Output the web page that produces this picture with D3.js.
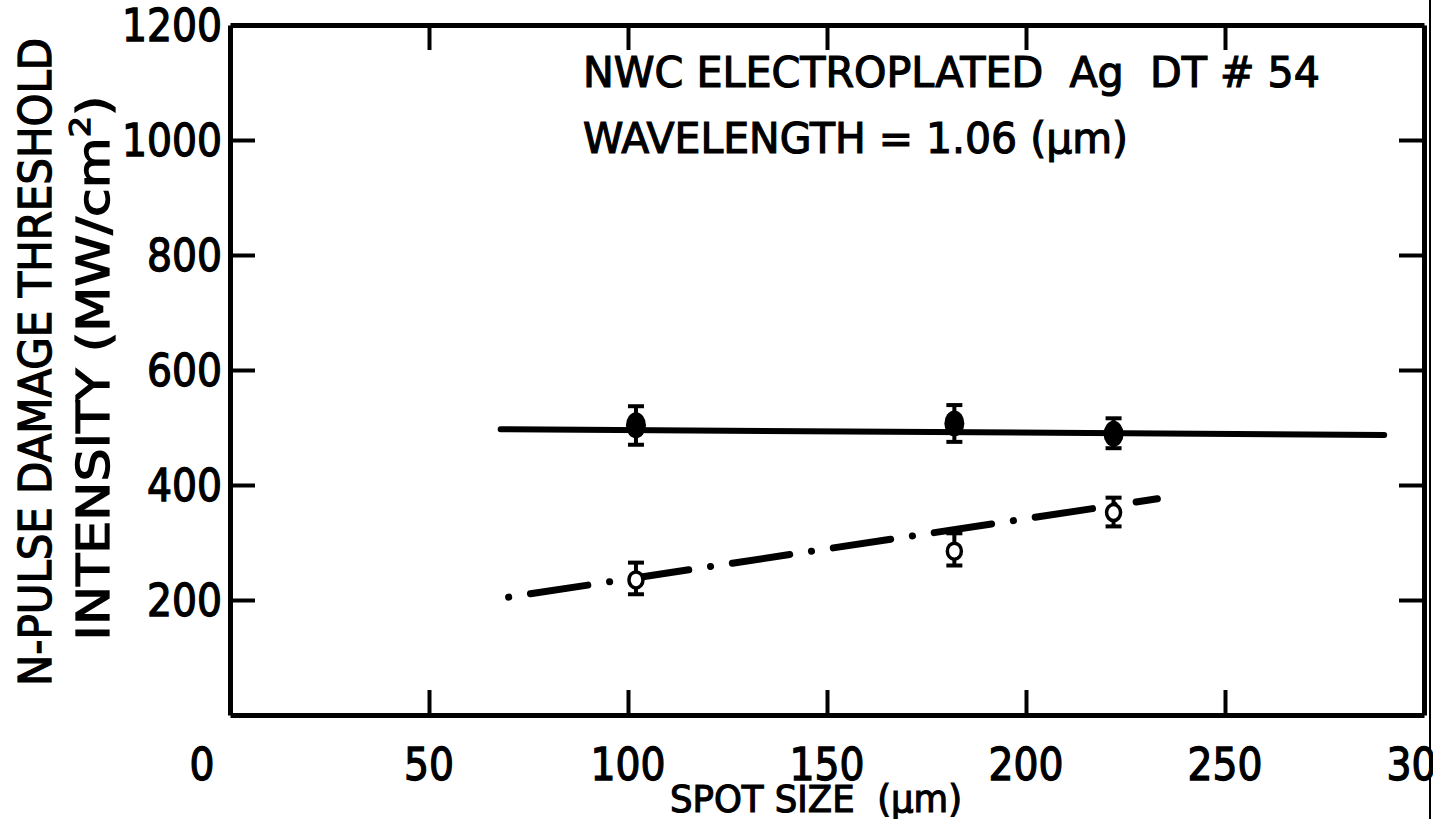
<!DOCTYPE html>
<html>
<head>
<meta charset="utf-8">
<script src="https://cdn.jsdelivr.net/npm/d3@7"></script>
<style>
  body { margin: 0; background: #fff; }
  svg { display: block; }
  text { font-family: 'DejaVu Sans', sans-serif; fill: #000; }
</style>
</head>
<body>
<svg id="chart" width="1433" height="819"></svg>
<script>
// values
const xTickLabels = [0, 50, 100, 150, 200, 250, 300]
const xTicksInner = [50, 100, 150, 200, 250]
const yTickLabels = [200, 400, 600, 800, 1000, 1200]
const yTicksRight = [200, 400, 600, 800, 1000]

// filled circles: spot size, threshold, error low, error high
const filledX = [102, 182, 222]
const filledY = [504, 507, 489]
const filledLo = [470, 475, 464]
const filledHi = [537, 539, 516]

// open circles
const openX = [102, 182, 222]
const openY = [235, 285, 352]
const openLo = [210, 260, 328]
const openHi = [265, 316, 378]

// hand-drawn fit lines (endpoints)
const solidFit = [[68, 497], [290, 487]]
const dashFit = [[70, 205], [233, 376]]

const svg = d3.select('#chart')

const x = d3.scaleLinear().domain([0, 300]).range([230, 1424])
const y = d3.scaleLinear().domain([0, 1200]).range([715, 25])

const tick = 25
const axisW = 4
const labelSize = 45
const digitW = 25

// bottom axis (inward ticks), labels drawn separately
svg.append('g')
  .attr('transform', `translate(0,${y(0)})`)
  .call(d3.axisBottom(x).tickValues(xTicksInner).tickSizeInner(-tick).tickSizeOuter(0).tickFormat(''))
svg.append('g')
  .selectAll('text')
  .data(xTickLabels)
  .enter()
  .append('text')
  .attr('x', d => d === 0 ? x(d) - 28 : x(d))
  .attr('y', 780)
  .attr('text-anchor', 'middle')
  .attr('font-size', labelSize)
  .attr('textLength', d => String(d).length * digitW)
  .attr('lengthAdjust', 'spacingAndGlyphs')
  .attr('stroke', '#000')
  .attr('stroke-width', 1.4)
  .text(d => d)

// top axis
svg.append('g')
  .attr('transform', `translate(0,${y(1200)})`)
  .call(d3.axisTop(x).tickValues(xTicksInner).tickSizeInner(-tick).tickSizeOuter(0).tickFormat(''))

// left axis
svg.append('g')
  .attr('transform', `translate(${x(0)},0)`)
  .call(d3.axisLeft(y).tickValues(yTickLabels.filter(d => d < 1200)).tickSizeInner(-tick).tickSizeOuter(0).tickFormat(''))
svg.append('g')
  .selectAll('text')
  .data(yTickLabels)
  .enter()
  .append('text')
  .attr('x', x(0) - 8)
  .attr('y', d => y(d) + 16)
  .attr('text-anchor', 'end')
  .attr('font-size', labelSize)
  .attr('textLength', d => String(d).length * digitW)
  .attr('lengthAdjust', 'spacingAndGlyphs')
  .attr('stroke', '#000')
  .attr('stroke-width', 1.4)
  .text(d => d)

// right axis
svg.append('g')
  .attr('transform', `translate(${x(300)},0)`)
  .call(d3.axisRight(y).tickValues(yTicksRight).tickSizeInner(-tick).tickSizeOuter(0).tickFormat(''))

svg.selectAll('.domain, .tick line')
  .attr('stroke', '#000')
  .attr('stroke-width', axisW)
svg.selectAll('.domain').attr('stroke-width', axisW + 1)

// page edge on the right
svg.append('line')
  .attr('x1', 1430).attr('x2', 1430)
  .attr('y1', 0).attr('y2', 819)
  .attr('stroke', '#000').attr('stroke-width', 2)

// fit lines
const line = d3.line().x(d => x(d[0])).y(d => y(d[1]))
svg.append('path')
  .attr('d', line(solidFit))
  .attr('fill', 'none')
  .attr('stroke', '#000')
  .attr('stroke-width', 6)
  .attr('stroke-linecap', 'round')
svg.append('path')
  .attr('d', line(dashFit))
  .attr('fill', 'none')
  .attr('stroke', '#000')
  .attr('stroke-width', 7)
  .attr('stroke-linecap', 'round')
  .attr('stroke-dasharray', '0.1,22,58,22')

// error bars
function errorBars(xs, lo, hi) {
  const g = svg.append('g').attr('stroke', '#000').attr('stroke-width', 4)
  xs.forEach((xv, i) => {
    g.append('line').attr('x1', x(xv)).attr('x2', x(xv)).attr('y1', y(lo[i])).attr('y2', y(hi[i]))
    g.append('line').attr('x1', x(xv) - 8).attr('x2', x(xv) + 8).attr('y1', y(lo[i])).attr('y2', y(lo[i]))
    g.append('line').attr('x1', x(xv) - 8).attr('x2', x(xv) + 8).attr('y1', y(hi[i])).attr('y2', y(hi[i]))
  })
}
errorBars(filledX, filledLo, filledHi)
errorBars(openX, openLo, openHi)

svg.append('g')
  .selectAll('ellipse')
  .data(filledX)
  .enter()
  .append('ellipse')
  .attr('cx', d => x(d))
  .attr('cy', (d, i) => y(filledY[i]))
  .attr('rx', 10)
  .attr('ry', 13)
  .attr('fill', '#000')

svg.append('g')
  .selectAll('ellipse')
  .data(openX)
  .enter()
  .append('ellipse')
  .attr('cx', d => x(d))
  .attr('cy', (d, i) => y(openY[i]))
  .attr('rx', 7)
  .attr('ry', 8)
  .attr('fill', '#fff')
  .attr('stroke', '#000')
  .attr('stroke-width', 3.5)

// annotation
svg.append('text')
  .attr('x', 583).attr('y', 87)
  .attr('font-size', 42)
  .attr('textLength', 737)
  .attr('lengthAdjust', 'spacingAndGlyphs')
  .attr('stroke', '#000').attr('stroke-width', 1.2)
  .attr('xml:space', 'preserve')
  .text('NWC ELECTROPLATED  Ag  DT # 54')
svg.append('text')
  .attr('x', 583).attr('y', 153)
  .attr('font-size', 42)
  .attr('textLength', 545)
  .attr('lengthAdjust', 'spacingAndGlyphs')
  .attr('stroke', '#000').attr('stroke-width', 1.2)
  .text('WAVELENGTH = 1.06 (μm)')

// axis titles
svg.append('text')
  .attr('x', 670).attr('y', 812)
  .attr('font-size', 37)
  .attr('textLength', 292)
  .attr('lengthAdjust', 'spacingAndGlyphs')
  .attr('stroke', '#000').attr('stroke-width', 1.2)
  .attr('xml:space', 'preserve')
  .text('SPOT SIZE  (μm)')

svg.append('text')
  .attr('transform', 'translate(51,362) rotate(-90)')
  .attr('text-anchor', 'middle')
  .attr('font-size', 44)
  .attr('textLength', 648)
  .attr('lengthAdjust', 'spacingAndGlyphs')
  .attr('stroke', '#000').attr('stroke-width', 1.3)
  .text('N-PULSE DAMAGE THRESHOLD')

const t2 = svg.append('text')
  .attr('transform', 'translate(109,368) rotate(-90)')
  .attr('text-anchor', 'middle')
  .attr('font-size', 44)
  .attr('textLength', 545)
  .attr('lengthAdjust', 'spacingAndGlyphs')
  .attr('stroke', '#000').attr('stroke-width', 1.3)
t2.append('tspan').text('INTENSITY (MW/cm')
t2.append('tspan').attr('dy', -19).attr('font-size', 28).text('2')
t2.append('tspan').attr('dy', 19).text(')')
</script>
</body>
</html>
